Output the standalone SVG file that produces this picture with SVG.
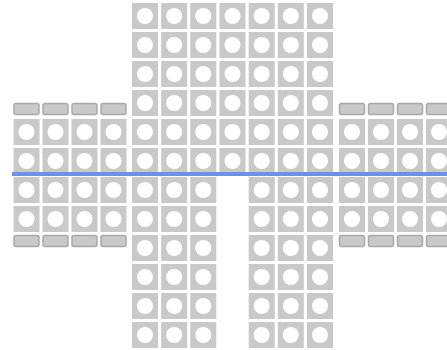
<svg xmlns="http://www.w3.org/2000/svg" xmlns:xlink="http://www.w3.org/1999/xlink" width="447" height="350" viewBox="0 0 447 350">
<defs>
<g id="t"><rect width="26" height="26" fill="#c9c9c9"/><circle cx="13" cy="13" r="8" fill="#fff"/></g>
<rect id="c" width="25" height="11" rx="2" fill="#c9c9c9" stroke="#a9a9a9" stroke-width="1.5"/>
<g id="row7"><use href="#t" x="0"/><use href="#t" x="29.2"/><use href="#t" x="58.3"/><use href="#t" x="87.5"/><use href="#t" x="116.7"/><use href="#t" x="145.8"/><use href="#t" x="175"/></g>
<g id="row6"><use href="#t" x="0"/><use href="#t" x="29.2"/><use href="#t" x="58.3"/><use href="#t" x="116.7"/><use href="#t" x="145.8"/><use href="#t" x="175"/></g>
<g id="row4"><use href="#t" x="0"/><use href="#t" x="29"/><use href="#t" x="58"/><use href="#t" x="87"/></g>
<g id="cap4"><use href="#c" x="0.5"/><use href="#c" x="29.5"/><use href="#c" x="58.5"/><use href="#c" x="87.5"/></g>
</defs>
<rect width="447" height="350" fill="#fff"/>
<g id="center" transform="translate(132,3)">
<use href="#row7" y="0"/><use href="#row7" y="29"/><use href="#row7" y="58"/><use href="#row7" y="87"/><use href="#row7" y="116"/><use href="#row7" y="145"/>
<use href="#row6" y="174"/><use href="#row6" y="203"/><use href="#row6" y="232"/><use href="#row6" y="261"/><use href="#row6" y="290"/><use href="#row6" y="319"/>
</g>
<g id="left" transform="translate(13.5,0)">
<use href="#cap4" y="103.5"/>
<use href="#row4" y="119"/><use href="#row4" y="148"/><use href="#row4" y="177"/><use href="#row4" y="206"/>
<use href="#cap4" y="235.5"/>
</g>
<g id="right" transform="translate(339,0)">
<use href="#cap4" y="103.5"/>
<use href="#row4" y="119"/><use href="#row4" y="148"/><use href="#row4" y="177"/><use href="#row4" y="206"/>
<use href="#cap4" y="235.5"/>
</g>
<g id="connectors">
<line x1="12" y1="174" x2="447" y2="174" stroke="#6f8ff0" stroke-width="4"/>
</g>
</svg>
